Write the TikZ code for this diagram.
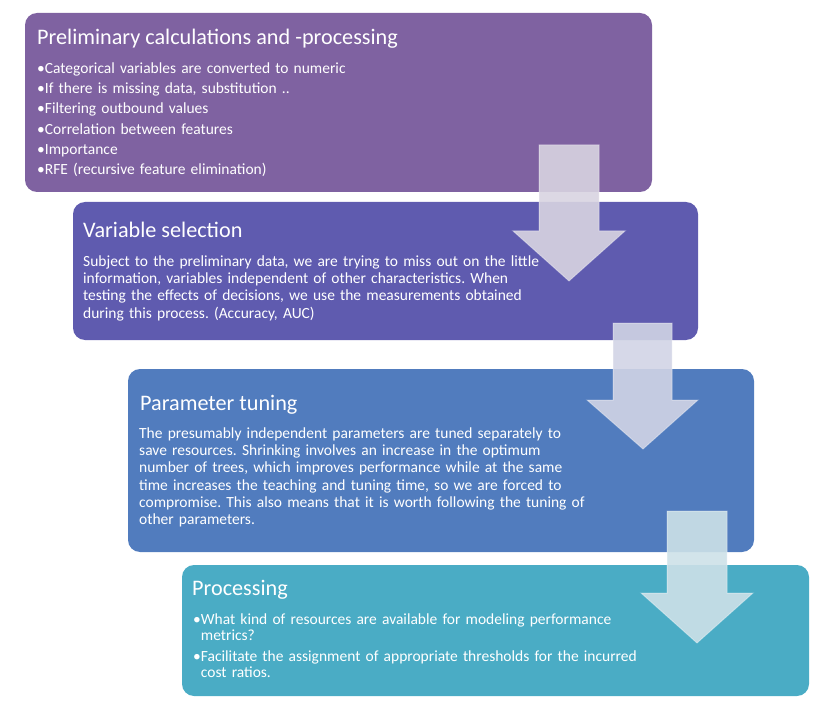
\documentclass[tikz,border=0pt]{standalone}
\usepackage{fontspec}
\setmainfont{Carlito}
\frenchspacing
\definecolor{boxA}{RGB}{127,98,161}
\definecolor{boxB}{RGB}{95,91,175}
\definecolor{boxC}{RGB}{81,124,190}
\definecolor{boxD}{RGB}{74,172,197}
\definecolor{arrA}{RGB}{216,212,225}
\definecolor{arrB}{RGB}{209,212,229}
\definecolor{arrC}{RGB}{205,225,232}
\tikzset{
  stagebox/.style={rounded corners=12pt},
  titletext/.style={anchor=base west, inner sep=0pt, text=white, font=\fontsize{22.2}{26}\selectfont},
  bodytext/.style={anchor=base west, inner sep=0pt, text=white, text width=560pt, align=left},
  downarrow/.style={fill opacity=0.9, draw=white, draw opacity=0.35, line width=1pt, line join=miter}
}
\begin{document}
\begin{tikzpicture}[x=1pt,y=-1pt]
\useasboundingbox (0,0) rectangle (839,706);
% boxes
\fill[boxA, stagebox] (25,13) rectangle (652,192);
\fill[boxB, stagebox] (73,202) rectangle (698,340);
\fill[boxC, stagebox] (128,369) rectangle (754,552);
\fill[boxD, stagebox] (182,565) rectangle (809,696);
% texts
\node[titletext] (t1) at (37,45) {Preliminary calculations and -processing};
\node[bodytext, font=\fontsize{15.5}{20.2}\selectfont] (b1) at (37,73.5) {•Categorical variables are converted to numeric\\
•If there is missing data, substitution ..\\
•Filtering outbound values\\
•Correlation between features\\
•Importance\\
•RFE (recursive feature elimination)};
\node[titletext] (t2) at (83,238) {Variable selection};
\node[bodytext, font=\fontsize{15.5}{17.2}\selectfont] (b2) at (83,266.5) {Subject to the preliminary data, we are trying to miss out on the little\\
information, variables independent of other characteristics. When\\
testing the effects of decisions, we use the measurements obtained\\
during this process. (Accuracy, AUC)};
\node[titletext] (t3) at (140,410) {Parameter tuning};
\node[bodytext, font=\fontsize{15.5}{17.3}\selectfont] (b3) at (139,438.3) {The presumably independent parameters are tuned separately to\\
save resources. Shrinking involves an increase in the optimum\\
number of trees, which improves performance while at the same\\
time increases the teaching and tuning time, so we are forced to\\
compromise. This also means that it is worth following the tuning of\\
other parameters.};
\node[titletext] (t4) at (192,595.5) {Processing};
\node[bodytext, font=\fontsize{15.5}{16.3}\selectfont] (b4a) at (193,624.3) {•What kind of resources are available for modeling performance\\
\phantom{•}metrics?};
\node[bodytext, font=\fontsize{15.5}{16.3}\selectfont] (b4b) at (193,661.5) {•Facilitate the assignment of appropriate thresholds for the incurred\\
\phantom{•}cost ratios.};
% arrows
\path[downarrow, fill=arrA] (539,145) -- (599,145) -- (599,231) -- (625,231) -- (569,281) -- (513,231) -- (539,231) -- cycle;
\path[downarrow, fill=arrB] (613,323) -- (672,323) -- (672,400) -- (698,400) -- (643,449) -- (587,400) -- (613,400) -- cycle;
\path[downarrow, fill=arrC] (667,511) -- (727,511) -- (727,593) -- (753,593) -- (697,643) -- (641,593) -- (667,593) -- cycle;
\end{tikzpicture}
\end{document}
